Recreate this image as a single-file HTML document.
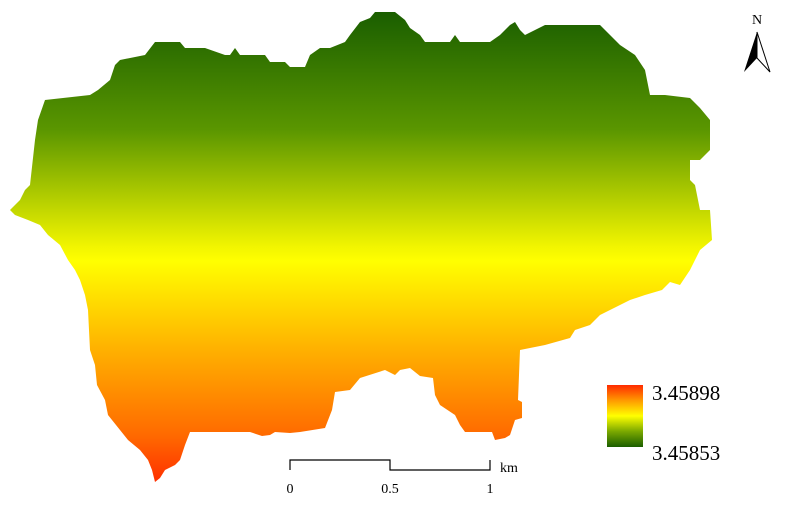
<!DOCTYPE html>
<html><head><meta charset="utf-8"><style>
html,body{margin:0;padding:0;background:#fff;width:800px;height:507px;overflow:hidden}
text{font-family:"Liberation Serif",serif}
</style></head><body>
<svg width="800" height="507" viewBox="0 0 800 507">
<defs>
<linearGradient id="mg" x1="0" y1="12" x2="0" y2="482" gradientUnits="userSpaceOnUse">
<stop offset="0" stop-color="#1a5e00"/>
<stop offset="0.25" stop-color="#5a9600"/>
<stop offset="0.5" stop-color="#f2f500"/>
<stop offset="0.53" stop-color="#ffff00"/>
<stop offset="0.72" stop-color="#ffb000"/>
<stop offset="0.9" stop-color="#ff6a00"/>
<stop offset="1" stop-color="#ff3000"/>
</linearGradient>
<linearGradient id="lg" x1="0" y1="0" x2="0" y2="1">
<stop offset="0" stop-color="#ff2a00"/>
<stop offset="0.25" stop-color="#ff9a00"/>
<stop offset="0.5" stop-color="#ffff00"/>
<stop offset="0.75" stop-color="#7aa800"/>
<stop offset="1" stop-color="#1a5e00"/>
</linearGradient>
</defs>
<polygon fill="url(#mg)" points="155,42 180,42 185,48 205,48 225,55 230,55 235,48 240,55 265,55 270,62 285,62 290,67 305,67 310,55 320,48 330,48 345,42 350,35 360,22 370,18 375,12 395,12 405,20 410,28 420,35 425,42 450,42 455,35 460,42 490,42 500,35 510,25 515,22 520,30 525,35 535,30 545,25 600,25 610,35 620,45 635,55 645,70 650,95 665,95 690,98 700,108 710,120 710,150 700,160 690,160 690,180 695,185 700,210 710,210 712,240 700,250 695,260 690,270 680,285 670,282 662,290 645,295 630,300 620,305 610,310 600,315 590,325 575,330 570,338 545,345 520,350 518,400 522,402 522,418 515,420 510,435 505,438 495,440 492,432 465,432 460,425 455,415 440,405 435,395 433,378 420,376 410,368 400,370 395,375 385,370 360,378 350,390 335,392 332,410 325,428 300,432 290,433 275,432 270,435 262,436 250,432 190,432 185,445 180,460 175,465 165,470 160,478 155,482 152,470 148,460 140,450 128,440 120,430 108,415 105,400 97,385 95,365 90,350 88,310 85,295 80,280 75,270 68,260 60,245 48,235 40,225 28,220 15,215 10,210 20,200 25,190 30,185 35,140 38,120 45,100 90,95 98,90 110,80 115,65 120,60 145,55"/>
<g>
<text x="757" y="24" font-size="14" text-anchor="middle">N</text>
<polygon points="757,32 744,72 757,58" fill="#000"/>
<polygon points="757,32 770,72 757,58" fill="#fff" stroke="#000" stroke-width="1"/>
</g>
<g>
<rect x="607" y="385" width="36" height="62" fill="url(#lg)"/>
<text id="lmax" x="652" y="400" font-size="21"></text>
<text id="lmin" x="652" y="460" font-size="21"></text>
</g>
<g stroke="#000" stroke-width="1.2" fill="none">
<polyline points="290,470 290,460 390,460 390,470 490,470 490,460"/>
</g>
<g id="scaleLabels" font-size="14" text-anchor="middle"></g>
<text x="500" y="472" font-size="14">km</text>
</svg>
<script>
const legendValues = ["3.45898", "3.45853"];
const scaleTicks = [0, 0.5, 1];
const scaleLabels = ["0", "0.5", "1"];
document.getElementById('lmax').textContent = legendValues[0];
document.getElementById('lmin').textContent = legendValues[1];
const g = document.getElementById('scaleLabels');
const sx = v => 290 + v * 200;
scaleTicks.forEach((v, i) => {
  const t = document.createElementNS('http://www.w3.org/2000/svg', 'text');
  t.setAttribute('x', sx(v));
  t.setAttribute('y', 493);
  t.textContent = scaleLabels[i];
  
  
  g.appendChild(t);
});
</script>
</body></html>
